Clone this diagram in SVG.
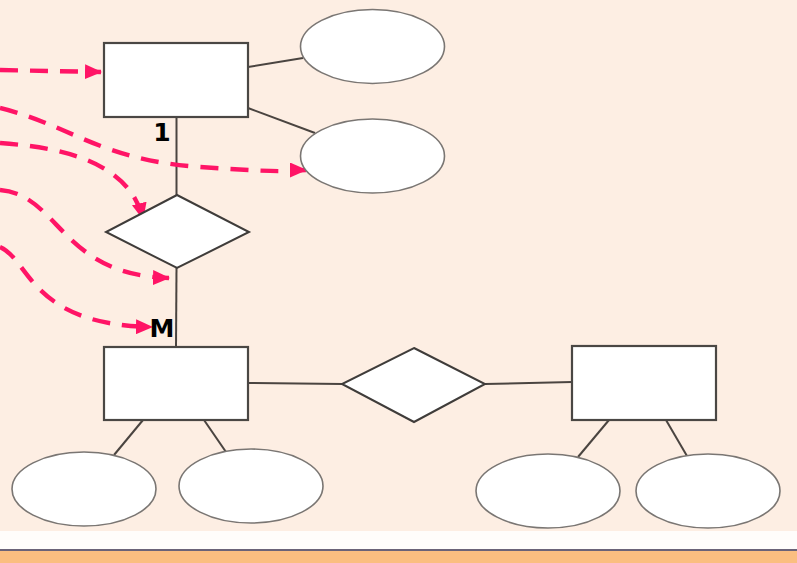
<svg xmlns="http://www.w3.org/2000/svg" width="797" height="563" viewBox="0 0 797 563">
<style>
.ent{fill:#fff;stroke:#4a4744;stroke-width:2.2}
.rel{fill:#fff;stroke:#3f3c3a;stroke-width:2}
.att{fill:#fff;stroke:#7a7673;stroke-width:1.6}
.ln{stroke:#4a4440;stroke-width:2;fill:none}
.dash{stroke:#ff1466;stroke-width:4.4;fill:none;stroke-dasharray:18 12}
.lbl{font-family:"DejaVu Sans",sans-serif;font-weight:bold;font-size:25px;fill:#000;text-anchor:middle}
</style>
<defs>
<marker id="ah" markerUnits="userSpaceOnUse" markerWidth="17" markerHeight="15" refX="16" refY="7.5" orient="auto">
<path d="M0,0 L17,7.5 L0,15 Z" fill="#ff1466"/>
</marker>
</defs>
<rect x="0" y="0" width="797" height="531" fill="#fdeee3"/>
<rect x="0" y="531" width="797" height="19" fill="#fffdfb"/>
<rect x="0" y="549" width="797" height="2" fill="#6b6378"/>
<rect x="0" y="551" width="797" height="12" fill="#fbbe80"/>
<g id="connectors">
<line class="ln" x1="248" y1="67" x2="303" y2="58"/>
<line class="ln" x1="248" y1="108" x2="315" y2="133"/>
<line class="ln" x1="176.5" y1="117" x2="176.5" y2="195"/>
<line class="ln" x1="176.5" y1="268" x2="176" y2="347"/>
<line class="ln" x1="248" y1="383" x2="342" y2="384"/>
<line class="ln" x1="485" y1="384" x2="572" y2="382"/>
<line class="ln" x1="143" y1="420" x2="114" y2="455"/>
<line class="ln" x1="204" y1="420" x2="226" y2="452"/>
<line class="ln" x1="609" y1="420" x2="578" y2="457"/>
<line class="ln" x1="666" y1="420" x2="687" y2="456"/>
<path class="dash" d="M0,70 L101,72" marker-end="url(#ah)"/>
<path class="dash" d="M0,108 C70,125 100,160 200,167 S285,170 306,170" marker-end="url(#ah)"/>
<path class="dash" d="M0,143 C70,148 130,165 143,219" marker-end="url(#ah)"/>
<path class="dash" d="M0,190 C60,195 60,275 169,278" marker-end="url(#ah)"/>
<path class="dash" d="M0,247 C30,260 30,325 152,327" marker-end="url(#ah)"/>
</g>
<g id="entity-top"><rect class="ent" x="104" y="43" width="144" height="74"/></g>
<g id="attr-top-1"><ellipse class="att" cx="372.5" cy="46.5" rx="72" ry="37"/></g>
<g id="attr-top-2"><ellipse class="att" cx="372.5" cy="156" rx="72" ry="37"/></g>
<g id="rel-1"><polygon class="rel" points="177,195 249,232 177,268 106,232"/></g>
<g id="entity-left"><rect class="ent" x="104" y="347" width="144" height="73"/></g>
<g id="rel-2"><polygon class="rel" points="414,348 485,384 414,422 342,384"/></g>
<g id="entity-right"><rect class="ent" x="572" y="346" width="144" height="74"/></g>
<g id="attr-bl-1"><ellipse class="att" cx="84" cy="489" rx="72" ry="37"/></g>
<g id="attr-bl-2"><ellipse class="att" cx="251" cy="486" rx="72" ry="37"/></g>
<g id="attr-br-1"><ellipse class="att" cx="548" cy="491" rx="72" ry="37"/></g>
<g id="attr-br-2"><ellipse class="att" cx="708" cy="491" rx="72" ry="37"/></g>
<g id="labels">
<text class="lbl" x="162" y="141">1</text>
<text class="lbl" x="162" y="337">M</text>
</g>
</svg>
